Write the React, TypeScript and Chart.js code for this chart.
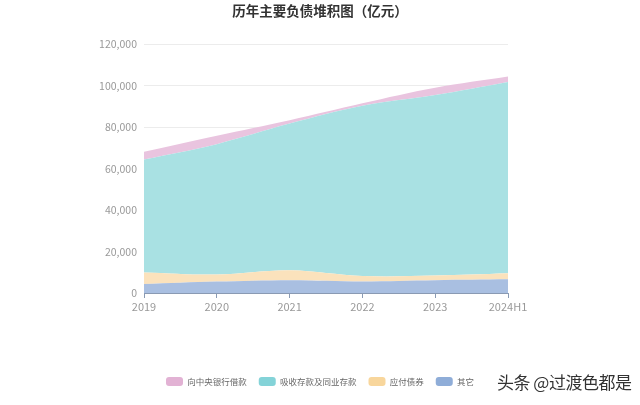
import React, { useEffect, useRef } from "react";
import { Chart, registerables } from "chart.js";

Chart.register(...registerables);

const categories = ["2019", "2020", "2021", "2022", "2023", "2024H1"];
const otherValues = [4300, 5500, 6200, 5600, 6200, 6600];
const bondValues = [5600, 3400, 4800, 2600, 2200, 2900];
const depositValues = [54500, 62900, 70700, 82100, 87100, 92300];
const centralBankValues = [3700, 4000, 1600, 1200, 3500, 2600];
const yTicks = [0, 20000, 40000, 60000, 80000, 100000, 120000];

const FONT = "'Noto Sans CJK SC', 'Noto Sans', sans-serif";

export default function App() {
  const ref = useRef<HTMLCanvasElement | null>(null);

  useEffect(() => {
    if (!ref.current) return;
    const mk = (label: string, data: number[], fill: string, legend: string, f: any) => ({
      label,
      data,
      backgroundColor: fill,
      borderColor: fill,
      borderWidth: 0,
      pointRadius: 0,
      tension: 0.35,
      fill: f,
      legendColor: legend,
      yAxisID: "y",
    });
    const chart = new Chart(ref.current, {
      type: "line",
      data: {
        labels: categories,
        datasets: [
          mk("其它", otherValues, "#a9bfe1", "#8fadd8", "origin"),
          mk("应付债券", bondValues, "#fbe2bc", "#f8d69c", "-1"),
          mk("吸收存款及同业存款", depositValues, "#a9e1e3", "#84d3d8", "-1"),
          mk("向中央银行借款", centralBankValues, "#e9c4df", "#e2b2d4", "-1"),
        ] as any,
      },
      options: {
        animation: false,
        responsive: false,
        layout: { padding: { left: 0, right: 0, top: 0, bottom: 9 } },
        plugins: {
          title: {
            display: true,
            text: "历年主要负债堆积图（亿元）",
            color: "#333",
            font: { family: FONT, size: 13.5, weight: "bold" },
            padding: { top: 3, bottom: 25 },
          },
          legend: {
            position: "bottom",
            reverse: true,
            labels: {
              boxWidth: 17,
              boxHeight: 9,
              useBorderRadius: true,
              borderRadius: 3,
              padding: 12,
              color: "#666",
              font: { family: FONT, size: 8.5 },
              generateLabels: (c: any) =>
                c.data.datasets.map((ds: any, i: number) => ({
                  text: ds.label,
                  fillStyle: ds.legendColor,
                  strokeStyle: ds.legendColor,
                  lineWidth: 0,
                  hidden: false,
                  datasetIndex: i,
                  borderRadius: 3,
                  fontColor: "#666",
                })),
            },
          },
          tooltip: { enabled: false },
        },
        scales: {
          x: {
            type: "category",
            offset: false,
            grid: {
              display: true,
              drawOnChartArea: false,
              drawTicks: true,
              tickLength: 5,
              color: "#8a9ab3",
            },
            border: { display: true, color: "#8a9ab3" },
            ticks: {
              color: "#999",
              font: { family: FONT, size: 11 },
              padding: 2,
              maxRotation: 0,
              autoSkip: false,
            },
            afterFit: (s: any) => {
              s.height = 72;
            },
          },
          y: {
            stacked: true,
            min: 0,
            max: 120000,
            afterBuildTicks: (s: any) => {
              s.ticks = yTicks.map((v) => ({ value: v }));
            },
            grid: { color: "#ececec", drawTicks: false },
            border: { display: false },
            ticks: {
              color: "#999",
              font: { family: FONT, size: 10.5 },
              padding: 7,
              callback: (v: any) => Number(v).toLocaleString("en-US"),
            },
            afterFit: (s: any) => {
              s.width = 144;
            },
          },
          yRight: {
            position: "right",
            display: true,
            min: 0,
            max: 1,
            grid: { display: false, drawTicks: false },
            border: { display: false },
            ticks: { display: false },
            afterFit: (s: any) => {
              s.width = 132;
            },
          },
        },
      } as any,
    });
    return () => chart.destroy();
  }, []);

  return (
    <div style={{ position: "fixed", left: 0, top: 0, width: 640, height: 405, background: "#fff" }}>
      <canvas ref={ref} width={640} height={405} style={{ width: 640, height: 405, display: "block" }} />
      <div
        style={{
          position: "absolute",
          left: 497,
          top: 369,
          fontFamily: FONT,
          fontSize: 17,
          color: "#333",
          whiteSpace: "nowrap",
          letterSpacing: -0.5,
        }}
      >
        头条 @过渡色都是
      </div>
    </div>
  );
}
